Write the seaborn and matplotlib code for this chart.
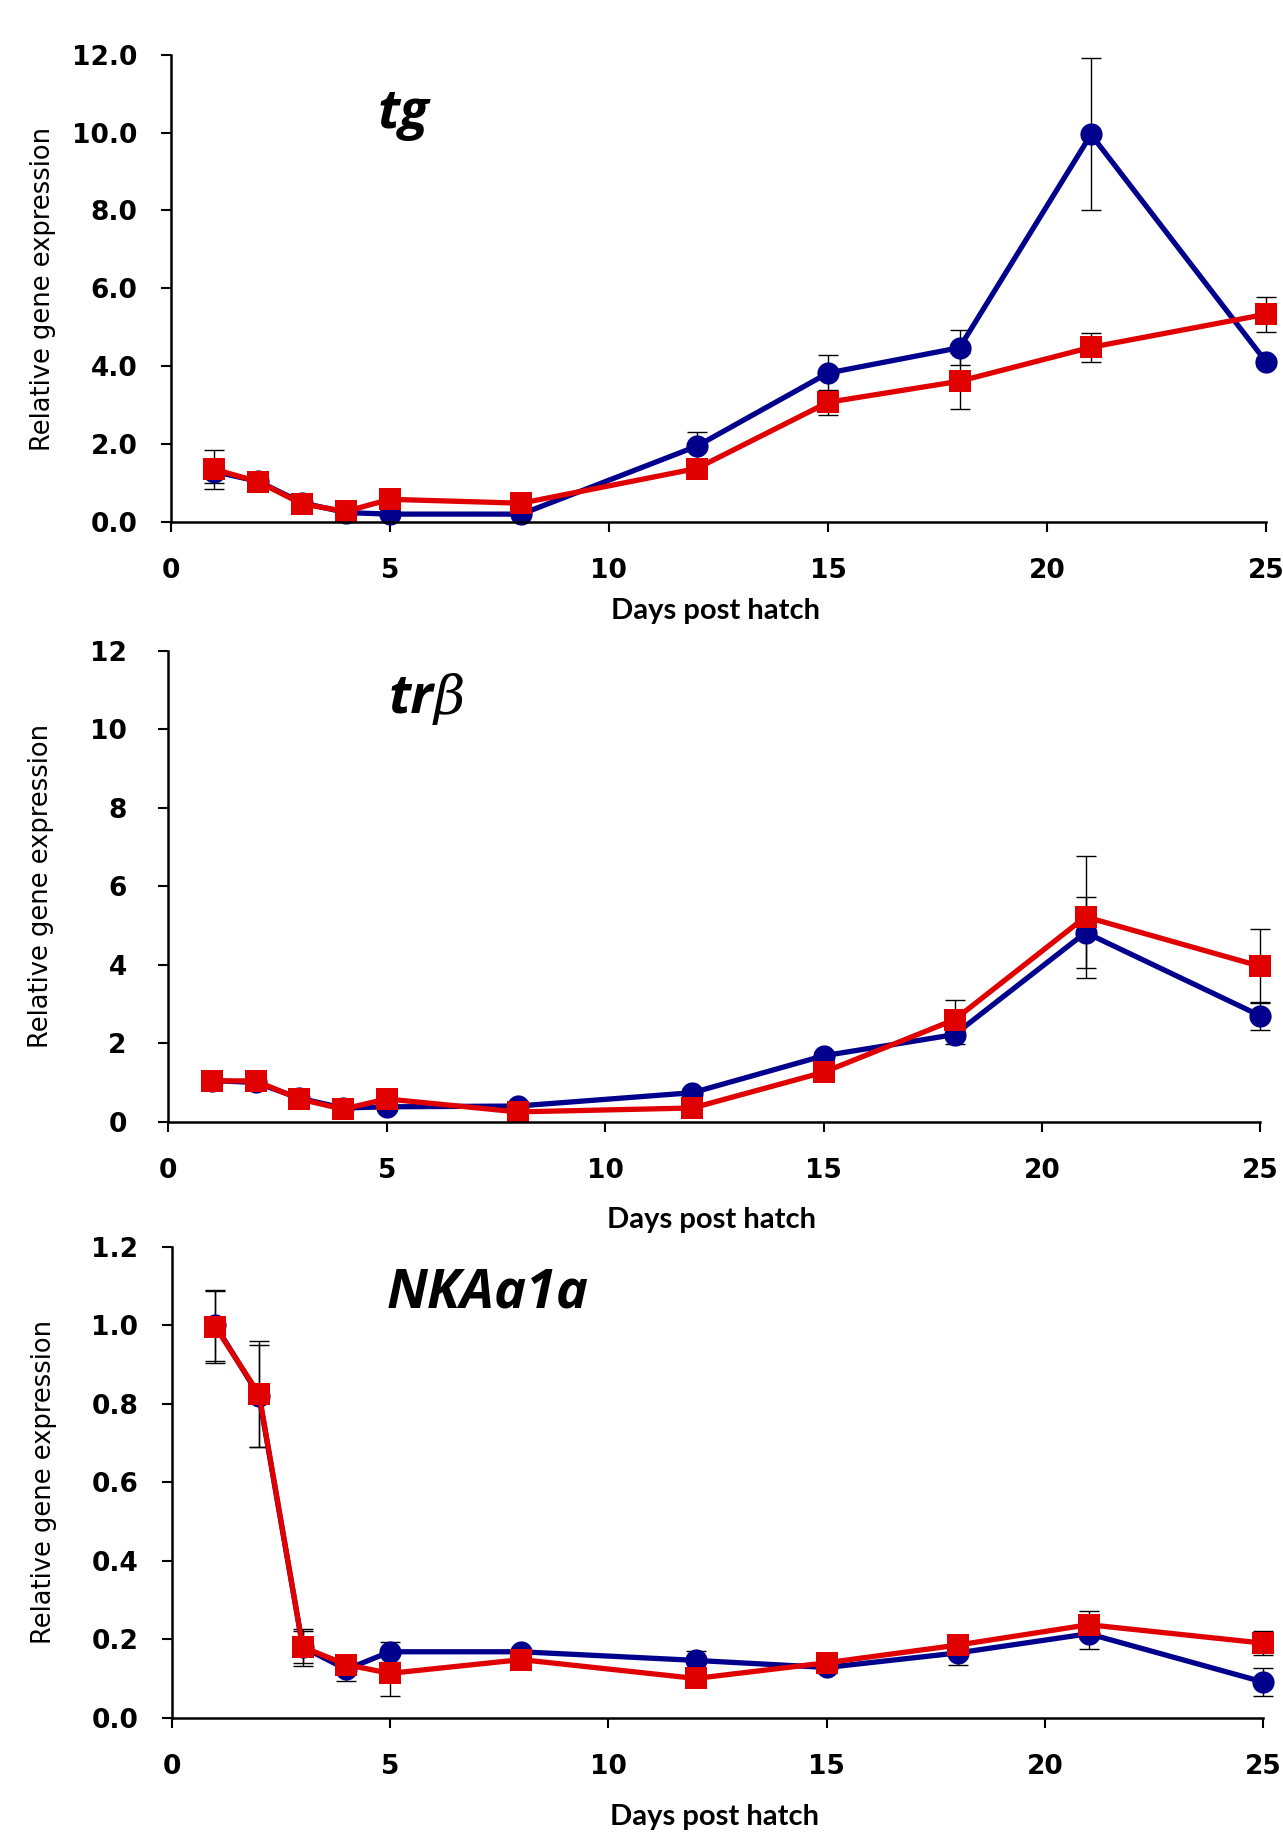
import numpy as np
import pandas as pd
import matplotlib
matplotlib.use("Agg")
import matplotlib.pyplot as plt
from matplotlib.ticker import FormatStrFormatter, MultipleLocator
import seaborn as sns

# ---------------- data ----------------
days = [1, 2, 3, 4, 5, 8, 12, 15, 18, 21, 25]

tg_blue = [1.30, 1.05, 0.50, 0.25, 0.21, 0.21, 1.95, 3.83, 4.48, 9.95, 4.11]
tg_blue_err = [0.30, 0.15, 0.05, 0.05, 0.05, 0.05, 0.37, 0.47, 0.45, 1.95, 0.10]
tg_red = [1.36, 1.04, 0.47, 0.28, 0.59, 0.49, 1.38, 3.08, 3.62, 4.49, 5.34]
tg_red_err = [0.50, 0.20, 0.08, 0.05, 0.20, 0.08, 0.22, 0.32, 0.72, 0.37, 0.45]

trb_blue = [1.05, 1.00, 0.60, 0.35, 0.38, 0.40, 0.74, 1.68, 2.22, 4.82, 2.70]
trb_blue_err = [0.10, 0.20, 0.10, 0.05, 0.10, 0.05, 0.10, 0.10, 0.25, 0.90, 0.36]
trb_red = [1.04, 1.04, 0.58, 0.32, 0.58, 0.25, 0.35, 1.26, 2.60, 5.22, 3.96]
trb_red_err = [0.10, 0.15, 0.10, 0.05, 0.10, 0.05, 0.05, 0.10, 0.50, 1.56, 0.94]

nka_blue = [1.00, 0.82, 0.18, 0.123, 0.168, 0.168, 0.146, 0.128, 0.165, 0.214, 0.091]
nka_blue_err = [0.09, 0.13, 0.04, 0.03, 0.025, 0.01, 0.024, 0.015, 0.03, 0.04, 0.035]
nka_red = [0.996, 0.824, 0.18, 0.135, 0.113, 0.148, 0.10, 0.14, 0.185, 0.237, 0.19]
nka_red_err = [0.092, 0.135, 0.047, 0.02, 0.058, 0.01, 0.01, 0.01, 0.01, 0.035, 0.03]

groups = ["blue", "red"]
palette = {"blue": "#00008C", "red": "#E00000"}
markers = {"blue": "o", "red": "s"}

x_ticks = [0, 5, 10, 15, 20, 25]
xlabel = "Days post hatch"
ylabel = "Relative gene expression"

panels = [
    dict(blue=tg_blue, be=tg_blue_err, red=tg_red, re=tg_red_err,
         ymax=12, step=2, fmt="%.1f", rect=[0.133, 0.7149, 0.854, 0.2553],
         title=("tg", None), tpos=(0.212, 0.874), xlab_y=-0.1625, ypad=17),
    dict(blue=trb_blue, be=trb_blue_err, red=trb_red, re=trb_red_err,
         ymax=12, step=2, fmt="%d", rect=[0.1312, 0.3877, 0.8511, 0.2571],
         title=("tr", "β"), tpos=(0.222, 0.898), xlab_y=-0.180, ypad=23),
    dict(blue=nka_blue, be=nka_blue_err, red=nka_red, re=nka_red_err,
         ymax=1.2, step=0.2, fmt="%.1f", rect=[0.1339, 0.0624, 0.8506, 0.2570],
         title=("NKAa1a", None), tpos=(0.289, 0.901), xlab_y=-0.183, ypad=17),
]

sns.set_style("ticks")
plt.rcParams["font.family"] = ["DejaVu Sans"]
plt.rcParams["text.color"] = "black"
plt.rcParams["axes.labelcolor"] = "black"
plt.rcParams["xtick.color"] = "black"
plt.rcParams["ytick.color"] = "black"

fig = plt.figure(figsize=(12.83, 18.32), dpi=100)

for p in panels:
    ax = fig.add_axes(p["rect"])
    df = pd.DataFrame({
        "day": days * 2,
        "value": list(p["blue"]) + list(p["red"]),
        "group": ["blue"] * len(days) + ["red"] * len(days),
    })
    # error bars (behind markers)
    ax.errorbar(days, p["blue"], yerr=p["be"], fmt="none", ecolor="black",
                elinewidth=1.0, capsize=7, capthick=1.0, zorder=1.5, clip_on=False)
    ax.errorbar(days, p["red"], yerr=p["re"], fmt="none", ecolor="black",
                elinewidth=1.0, capsize=7, capthick=1.0, zorder=1.5, clip_on=False)
    sns.lineplot(data=df, x="day", y="value", hue="group", style="group",
                 palette=palette, markers=markers, dashes=False, legend=False,
                 markersize=16, markeredgewidth=0, linewidth=3.8, ax=ax,
                 errorbar=None, sort=False)
    for ln in ax.lines:
        ln.set_clip_on(False)

    ax.set_xlim(0, 25)
    ax.set_ylim(0, p["ymax"])
    ax.set_xticks(x_ticks)
    ax.yaxis.set_major_locator(MultipleLocator(p["step"]))
    ax.yaxis.set_major_formatter(FormatStrFormatter(p["fmt"]))
    sns.despine(ax=ax)
    for s in ["left", "bottom"]:
        ax.spines[s].set_linewidth(1.8)
        ax.spines[s].set_color("black")
    ax.tick_params(axis="both", direction="out", length=7, width=1.5,
                   color="black", labelcolor="black")
    ax.tick_params(axis="y", pad=p["ypad"])
    ax.tick_params(axis="x", pad=19)
    for lab in ax.get_xticklabels() + ax.get_yticklabels():
        lab.set_fontsize(19)
        lab.set_fontweight("bold")
        lab.set_fontfamily("DejaVu Sans")

    ax.set_xlabel(xlabel, fontsize=21, fontweight="bold", color="black",
                  family=["Lato", "DejaVu Sans"])
    ax.set_ylabel(ylabel, fontsize=18.5, color="black", family=["DejaVu Sans"])
    ax.xaxis.set_label_coords(0.497, p["xlab_y"])
    ax.yaxis.set_label_coords(-0.105, 0.5)

    t1, t2 = p["title"]
    txt = ax.text(p["tpos"][0], p["tpos"][1], t1, transform=ax.transAxes,
                  fontsize=39, fontweight="bold", fontstyle="italic", color="black",
                  family=["Open Sans", "DejaVu Sans"], va="center", ha="center")
    if t2:
        ax.annotate(t2, xy=(1.0, 0.0), xycoords=txt, fontsize=39, color="black",
                    fontstyle="italic", family=["DejaVu Serif"], va="bottom", ha="left")

fig.savefig("out.png", dpi=100)
